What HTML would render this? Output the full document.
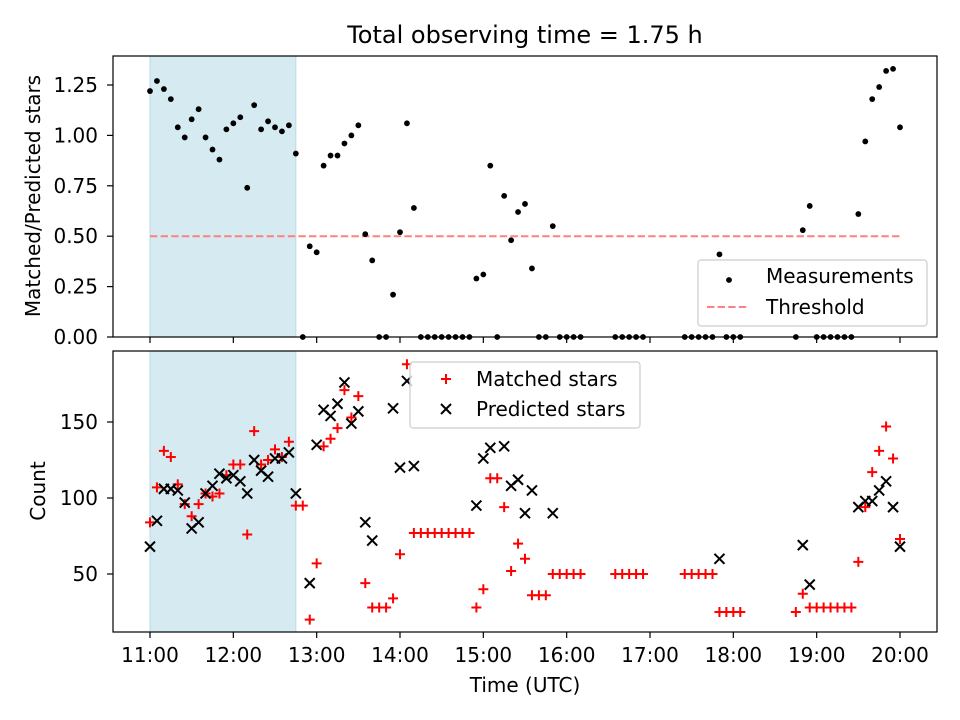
<!DOCTYPE html>
<html><head><meta charset="utf-8">
<style>
html,body{margin:0;padding:0;background:#fff;}
svg{display:block;font-family:"DejaVu Sans","Liberation Sans",sans-serif;}
</style></head>
<body>
<svg id="chart" width="960" height="720" viewBox="0 0 960 720" xmlns="http://www.w3.org/2000/svg">
<rect width="960" height="720" fill="#fff"/>
<g id="topPanel"></g>
<g id="botPanel"></g>
</svg>
<script>
// ---- data (time = minutes after 11:00, 5-min cadence index * 5) ----
const ratioIdx = [0,1,2,3,4,5,6,7,8,9,10,11,12,13,14,15,16,17,18,19,20,21,22,23,24,25,26,27,28,29,30,31,32,33,34,35,36,37,38,39,40,41,42,43,44,45,46,47,48,49,50,51,52,53,54,55,56,57,58,59,60,61,62,67,68,69,70,71,77,78,79,80,81,82,83,84,85,93,94,95,96,97,98,99,100,101,102,103,104,105,106,107,108];
const ratioVals = [1.22,1.27,1.23,1.18,1.04,0.99,1.08,1.13,0.99,0.93,0.88,1.03,1.06,1.09,0.74,1.15,1.03,1.07,1.04,1.02,1.05,0.91,0,0.45,0.42,0.85,0.90,0.90,0.96,1.00,1.05,0.51,0.38,0,0,0.21,0.52,1.06,0.64,0,0,0,0,0,0,0,0,0.29,0.31,0.85,0,0.70,0.48,0.62,0.66,0.34,0,0,0.55,0,0,0,0,0,0,0,0,0,0,0,0,0,0,0.41,0,0,0,0,0.53,0.65,0,0,0,0,0,0,0.61,0.97,1.18,1.24,1.32,1.33,1.04];
const threshold = 0.5;
const matchedIdx = [0,1,2,3,4,5,6,7,8,9,10,11,12,13,14,15,16,17,18,19,20,21,22,23,24,25,26,27,28,29,30,31,32,33,34,35,36,37,38,39,40,41,42,43,44,45,46,47,48,49,50,51,52,53,54,55,56,57,58,59,60,61,62,67,68,69,70,71,77,78,79,80,81,82,83,84,85,93,94,95,96,97,98,99,100,101,102,103,104,105,106,107,108];
const matchedVals = [84,107,131,127,109,96,88,96,103,101,103,115,122,122,76,144,122,125,132,127,137,95,95,20,57,134,139,146,171,153,167,44,28,28,28,34,63,188,77,77,77,77,77,77,77,77,77,28,40,113,113,94,52,70,60,36,36,36,50,50,50,50,50,50,50,50,50,50,50,50,50,50,50,25,25,25,25,25,37,28,28,28,28,28,28,28,58,94,117,131,147,126,73];
const predIdx = [0,1,2,3,4,5,6,7,8,9,10,11,12,13,14,15,16,17,18,19,20,21,23,24,25,26,27,28,29,30,31,32,35,36,37,38,47,48,49,51,52,53,54,55,58,82,94,95,102,103,104,105,106,107,108];
const predVals = [68,85,106,106,105,97,80,84,103,108,116,113,115,111,103,125,118,114,126,126,130,103,44,135,158,154,162,176,149,157,84,72,159,120,177,121,95,126,133,134,108,112,90,105,90,60,69,43,94,98,98,105,111,94,68];
const xTickLabels = ["11:00","12:00","13:00","14:00","15:00","16:00","17:00","18:00","19:00","20:00"];
const topTicks = [0,0.25,0.5,0.75,1.0,1.25];
const botTicks = [50,100,150];
const shadeMinutes = [0,105];

const NS="http://www.w3.org/2000/svg";
const X0=113,X1=937;
const xs = m => 150 + m*(750/540);
const yTop = v => 337 - v*201.6;
const yBot = v => 650 - v*1.52;
function mk(tag,attrs,parent){const e=document.createElementNS(NS,tag);for(const k in attrs)e.setAttribute(k,attrs[k]);parent.appendChild(e);return e;}
const topG=document.getElementById('topPanel'), botG=document.getElementById('botPanel');

function panel(g,y0,y1,ticks,yfn,fmt,showX,name){
  let s=mk('rect',{x:xs(shadeMinutes[0]),y:y0,width:xs(shadeMinutes[1])-xs(shadeMinutes[0]),height:y1-y0,fill:'#d5eaf1',stroke:'#b9dbe6','stroke-width':1},g);
  
  
  ticks.forEach(t=>{
    const y=yfn(t);
    mk('line',{x1:X0-6,x2:X0,y1:y,y2:y,stroke:'#000','stroke-width':1.2},g);
    const tx=mk('text',{x:98,y:y+7,'text-anchor':'end','font-size':20},g);
    tx.textContent=fmt(t);
    
    
  });
  xTickLabels.forEach((l,i)=>{
    const x=xs(i*60);
    mk('line',{x1:x,x2:x,y1:y1,y2:y1+6,stroke:'#000','stroke-width':1.2},g);
    if(showX){const tx=mk('text',{x:x,y:662,'text-anchor':'middle','font-size':20},g);tx.textContent=l;
      
      }
  });
}
panel(topG,56,337,topTicks,yTop,t=>t.toFixed(2),false,'top');
panel(botG,351,632,botTicks,yBot,t=>String(t),true,'bottom');

// threshold
let th=mk('line',{x1:xs(0),x2:xs(540),y1:yTop(threshold),y2:yTop(threshold),stroke:'#ff8080','stroke-width':2,'stroke-dasharray':'7.4 3.2'},topG);


ratioIdx.forEach((k,i)=>{
  const c=mk('circle',{cx:xs(k*5),cy:yTop(ratioVals[i]),r:2.9,fill:'#000'},topG);
  
  
});
function plus(g,x,y){const p=mk('path',{d:`M${x-5} ${y}H${x+5}M${x} ${y-5}V${y+5}`,stroke:'#ff0000','stroke-width':2,fill:'none'},g);return p;}
function cross(g,x,y){const p=mk('path',{d:`M${x-5} ${y-5}L${x+5} ${y+5}M${x-5} ${y+5}L${x+5} ${y-5}`,stroke:'#000','stroke-width':2,fill:'none'},g);return p;}
matchedIdx.forEach((k,i)=>{const p=plus(botG,xs(k*5),yBot(matchedVals[i]));
  
  });
predIdx.forEach((k,i)=>{const p=cross(botG,xs(k*5),yBot(predVals[i]));
  
  });

// frames
mk('rect',{x:X0,y:56,width:X1-X0,height:281,fill:'none',stroke:'#000','stroke-width':1.2},topG);
mk('rect',{x:X0,y:351,width:X1-X0,height:281,fill:'none',stroke:'#000','stroke-width':1.2},botG);

// legends
const svg=document.getElementById('chart');
let lg=mk('g',{},svg);


mk('rect',{x:698,y:260,width:229,height:66,rx:3,fill:'#fff','fill-opacity':0.8,stroke:'#ccc','stroke-width':1.2},lg);
mk('circle',{cx:729,cy:280,r:2.9,fill:'#000'},lg);
let t1=mk('text',{x:766,y:283,'font-size':20},lg);t1.textContent='Measurements';
mk('line',{x1:707,x2:749,y1:307,y2:307,stroke:'#ff8080','stroke-width':2,'stroke-dasharray':'7.4 3.2'},lg);
let t2=mk('text',{x:766,y:314,'font-size':20},lg);t2.textContent='Threshold';

let lg2=mk('g',{},svg);


mk('rect',{x:410,y:362,width:230,height:66,rx:3,fill:'#fff','fill-opacity':0.8,stroke:'#ccc','stroke-width':1.2},lg2);
plus(lg2,446,379);
let t3=mk('text',{x:476,y:386,'font-size':20},lg2);t3.textContent='Matched stars';
cross(lg2,446,409);
let t4=mk('text',{x:476,y:416,'font-size':20},lg2);t4.textContent='Predicted stars';

// titles
let ti=mk('text',{x:525,y:43,'text-anchor':'middle','font-size':24},svg);ti.textContent='Total observing time = 1.75 h';


let yl=mk('text',{x:0,y:0,'text-anchor':'middle','font-size':20,transform:'translate(40,196) rotate(-90)'},svg);yl.textContent='Matched/Predicted stars';


let yl2=mk('text',{x:0,y:0,'text-anchor':'middle','font-size':20,transform:'translate(45,491) rotate(-90)'},svg);yl2.textContent='Count';


let xl=mk('text',{x:525,y:692,'text-anchor':'middle','font-size':20},svg);xl.textContent='Time (UTC)';


</script>
</body></html>
